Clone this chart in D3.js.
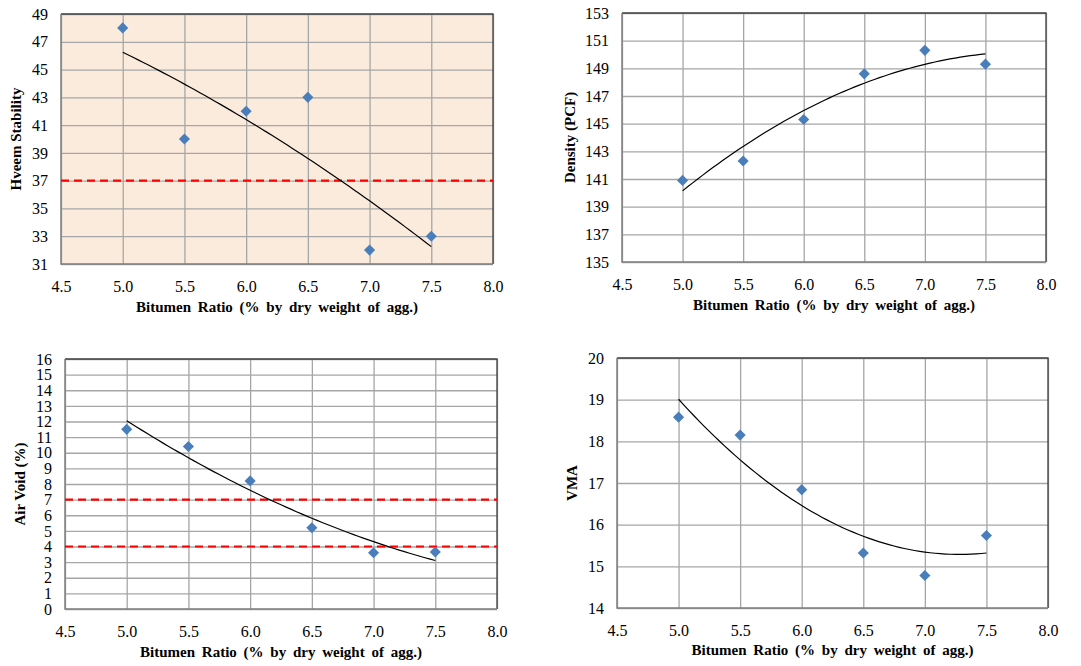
<!DOCTYPE html>
<html>
<head>
<meta charset="utf-8">
<script src="https://cdn.jsdelivr.net/npm/d3@7/dist/d3.min.js"></script>
<style>
  html, body { margin: 0; padding: 0; background: #ffffff; }
  svg { display: block; }
  svg text { font-family: "Times New Roman", "Liberation Serif", Tinos, "DejaVu Serif", serif !important; fill: #000; }
</style>
</head>
<body>
<svg id="chart" width="1081" height="666"></svg>
<script>
// ---------------- data ----------------
const bitumenRatio = [5.0, 5.5, 6.0, 6.5, 7.0, 7.5];
const hveemStability = [48, 40, 42, 43, 32, 33];
const densityPCF = [140.9, 142.3, 145.3, 148.6, 150.3, 149.3];
const airVoidPct = [11.5, 10.4, 8.2, 5.2, 3.6, 3.65];
const vmaValues = [18.58, 18.15, 16.84, 15.32, 14.78, 15.74];

const xTickValues = [4.5, 5.0, 5.5, 6.0, 6.5, 7.0, 7.5, 8.0];
const hveemTicks = [31, 33, 35, 37, 39, 41, 43, 45, 47, 49];
const densityTicks = [135, 137, 139, 141, 143, 145, 147, 149, 151, 153];
const airVoidTicks = [0, 1, 2, 3, 4, 5, 6, 7, 8, 9, 10, 11, 12, 13, 14, 15, 16];
const vmaTicks = [14, 15, 16, 17, 18, 19, 20];

const hveemLimits = [37];
const airVoidLimits = [7, 4];

const xTitle = "Bitumen Ratio (% by dry weight of agg.)";

// ---------------- layout ----------------
const FONT = "'Times New Roman', 'Liberation Serif', Tinos, 'DejaVu Serif', serif";
const panels = [
  { values: hveemStability, ticks: hveemTicks, limits: hveemLimits, title: "Hveem Stability",
    box: { l: 61, r: 493, t: 14, b: 264 }, titleX: 16, xTitleY: 312, bg: "#FBEBDD" },
  { values: densityPCF, ticks: densityTicks, limits: [], title: "Density (PCF)",
    box: { l: 622, r: 1046, t: 13, b: 262 }, titleX: 570, xTitleY: 310, bg: null },
  { values: airVoidPct, ticks: airVoidTicks, limits: airVoidLimits, title: "Air Void (%)",
    box: { l: 65, r: 497, t: 359, b: 609 }, titleX: 20, xTitleY: 657, bg: null },
  { values: vmaValues, ticks: vmaTicks, limits: [], title: "VMA",
    box: { l: 617, r: 1048, t: 358, b: 608 }, titleX: 572, xTitleY: 655, bg: null }
];

// least-squares quadratic fit (Excel polynomial trendline, order 2)
function quadFit(xs, ys) {
  let s = [0, 0, 0, 0, 0], t = [0, 0, 0];
  xs.forEach((x, i) => {
    const y = ys[i];
    for (let k = 0; k <= 4; k++) s[k] += Math.pow(x, k);
    for (let k = 0; k <= 2; k++) t[k] += Math.pow(x, k) * y;
  });
  const M = [[s[0], s[1], s[2], t[0]], [s[1], s[2], s[3], t[1]], [s[2], s[3], s[4], t[2]]];
  for (let i = 0; i < 3; i++) {
    let p = i;
    for (let j = i + 1; j < 3; j++) if (Math.abs(M[j][i]) > Math.abs(M[p][i])) p = j;
    [M[i], M[p]] = [M[p], M[i]];
    for (let j = i + 1; j < 3; j++) {
      const f = M[j][i] / M[i][i];
      for (let k = i; k < 4; k++) M[j][k] -= f * M[i][k];
    }
  }
  const c = [0, 0, 0];
  for (let i = 2; i >= 0; i--) {
    let v = M[i][3];
    for (let k = i + 1; k < 3; k++) v -= M[i][k] * c[k];
    c[i] = v / M[i][i];
  }
  return x => c[0] + c[1] * x + c[2] * x * x;
}

const svg = d3.select("#chart");

panels.forEach(p => {
  const { l, r, t, b } = p.box;
  const x = d3.scaleLinear().domain([xTickValues[0], xTickValues[xTickValues.length - 1]]).range([l, r]);
  const y = d3.scaleLinear().domain([p.ticks[0], p.ticks[p.ticks.length - 1]]).range([b, t]);
  const g = svg.append("g").attr("font-family", FONT);

  if (p.bg) {
    g.append("rect").attr("x", l).attr("y", t).attr("width", r - l).attr("height", b - t).attr("fill", p.bg);
  }

  // gridlines
  const gx = g.append("g").attr("transform", `translate(0,${b})`)
    .call(d3.axisBottom(x).tickValues(xTickValues).tickSize(-(b - t)).tickFormat(""));
  gx.select(".domain").remove();
  gx.selectAll("line").attr("stroke", "#A6A6A6").attr("stroke-width", 1.3);

  const gy = g.append("g").attr("transform", `translate(${l},0)`)
    .call(d3.axisLeft(y).tickValues(p.ticks).tickSize(-(r - l)).tickFormat(""));
  gy.select(".domain").remove();
  gy.selectAll("line").attr("stroke", "#A6A6A6").attr("stroke-width", 1.3);

  // tick labels
  const xl = g.append("g").attr("transform", `translate(0,${b})`)
    .call(d3.axisBottom(x).tickValues(xTickValues).tickSize(0).tickPadding(17).tickFormat(d3.format(".1f")));
  xl.attr("font-family", FONT).attr("font-size", 16);
  xl.select(".domain").remove();
  xl.selectAll("text").attr("font-family", FONT).attr("font-size", 16).attr("fill", "#000");

  const yl = g.append("g").attr("transform", `translate(${l},0)`)
    .call(d3.axisLeft(y).tickValues(p.ticks).tickSize(0).tickPadding(13).tickFormat(d3.format("d")));
  yl.attr("font-family", FONT).attr("font-size", 16);
  yl.select(".domain").remove();
  yl.selectAll("text").attr("font-family", FONT).attr("font-size", 16).attr("fill", "#000");

  // frame
  g.append("path").attr("d", `M${l},${t}H${r}V${b}`).attr("fill", "none").attr("stroke", "#404040").attr("stroke-width", 1.3);
  g.append("path").attr("d", `M${l},${t}V${b}H${r}`).attr("fill", "none").attr("stroke", "#808080").attr("stroke-width", 1.5);

  // limit lines
  g.selectAll(".limit").data(p.limits).enter().append("line")
    .attr("x1", l).attr("x2", r).attr("y1", d => y(d)).attr("y2", d => y(d))
    .attr("stroke", "#FF0000").attr("stroke-width", 2.2).attr("stroke-dasharray", "8,5");

  // trendline
  const f = quadFit(bitumenRatio, p.values);
  const x0 = d3.min(bitumenRatio), x1 = d3.max(bitumenRatio);
  const samples = d3.range(0, 61).map(i => x0 + (x1 - x0) * i / 60);
  g.append("path").datum(samples)
    .attr("d", d3.line().x(d => x(d)).y(d => y(f(d))))
    .attr("fill", "none").attr("stroke", "#000").attr("stroke-width", 1.2);

  // markers
  g.selectAll(".pt").data(bitumenRatio).enter().append("path")
    .attr("d", d3.symbol().type(d3.symbolSquare).size(62))
    .attr("transform", (d, i) => `translate(${x(d)},${y(p.values[i])}) rotate(45)`)
    .attr("fill", "#4A7EBB");

  // axis titles
  g.append("text").attr("x", (l + r) / 2).attr("y", p.xTitleY).attr("text-anchor", "middle")
    .attr("font-family", FONT).attr("font-size", 15).attr("font-weight", "bold")
    .style("word-spacing", "3px").text(xTitle);
  g.append("text").attr("transform", `translate(${p.titleX},${(t + b) / 2}) rotate(-90)`)
    .attr("text-anchor", "middle").attr("dominant-baseline", "central")
    .attr("font-family", FONT).attr("font-size", 15).attr("font-weight", "bold").text(p.title);
});
</script>
</body>
</html>
